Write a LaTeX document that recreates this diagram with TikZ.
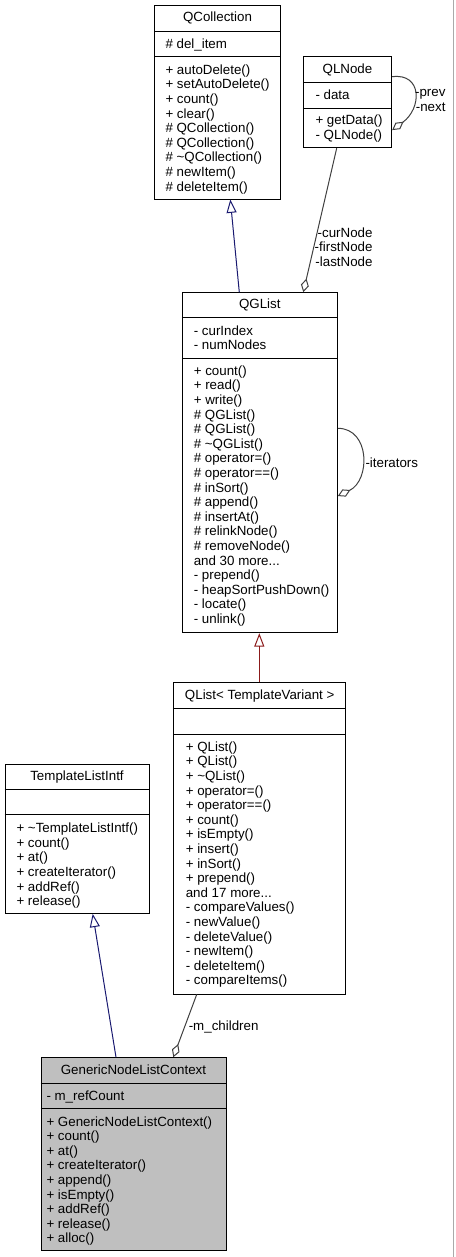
\documentclass[tikz,border=0pt]{standalone}
\usepackage{fontspec}
\setmainfont{Liberation Sans}
\usetikzlibrary{arrows.meta,fit}

\definecolor{inhblue}{RGB}{25,25,112}
\definecolor{inhred}{RGB}{139,26,26}
\definecolor{compgray}{RGB}{64,64,64}
\definecolor{boxgray}{RGB}{191,191,191}
\definecolor{framegray}{RGB}{170,170,170}

\tikzset{every picture/.style={line width=0.75pt}}
\tikzset{every node/.style={font=\fontsize{10pt}{10.95pt}\selectfont},
  classbox/.style={draw=black, fill=white, inner sep=0pt},
  ctitle/.style={anchor=base, inner sep=0pt},
  mlist/.style={anchor=north west, inner sep=0pt, align=left},
  elabel/.style={anchor=north east, inner sep=0pt, align=right},
  inherit/.style={-{Triangle[open, length=10pt, width=7.5pt]}},
  compose/.style={draw=compgray, -{Diamond[open, length=10.5pt, width=6pt]}}}

\begin{document}
\begin{tikzpicture}[x=0.75pt,y=0.75pt,yscale=-1,xscale=1]
    \useasboundingbox (0,0) rectangle (455,1257);

    %Frame line
    \draw [framegray, line width=1pt] (453.3,0) -- (453.3,1257) ;

    %Class QCollection
    \node [classbox, fit={(154.7,5.7) (280,199)}] (qcoll) {};
    \draw (qcoll.west |- 0,31) -- (qcoll.east |- 0,31) ;
    \draw (qcoll.west |- 0,56.7) -- (qcoll.east |- 0,56.7) ;
    % Text Node
    \node [ctitle] (qcoll-t) at (217.5,21.6) {QCollection};
    \node [mlist] (qcoll-a) at (165,37.9) {\# del\_item};
    \node [mlist] (qcoll-m) at (165,64.2) {+ autoDelete()\\+ setAutoDelete()\\+ count()\\+ clear()\\\# QCollection()\\\# QCollection()\\\# \textasciitilde QCollection()\\\# newItem()\\\# deleteItem()};

    %Class QLNode
    \node [classbox, fit={(303.3,56.7) (391.7,147.7)}] (qln) {};
    \draw (qln.west |- 0,82.7) -- (qln.east |- 0,82.7) ;
    \draw (qln.west |- 0,108.3) -- (qln.east |- 0,108.3) ;
    % Text Node
    \node [ctitle] (qln-t) at (347.5,73.6) {QLNode};
    \node [mlist] (qln-a) at (315,89.5) {- data};
    \node [mlist] (qln-m) at (315,114.7) {+ getData()\\- QLNode()};

    %Class QGList
    \node [classbox, fit={(182.3,292.7) (337.3,632.7)}] (qgl) {};
    \draw (qgl.west |- 0,317.7) -- (qgl.east |- 0,317.7) ;
    \draw (qgl.west |- 0,358.3) -- (qgl.east |- 0,358.3) ;
    % Text Node
    \node [ctitle] (qgl-t) at (259.8,308.6) {QGList};
    \node [mlist] (qgl-a) at (193.3,325.2) {- curIndex\\- numNodes};
    \node [mlist] (qgl-m) at (193.3,365.2) {+ count()\\+ read()\\+ write()\\\# QGList()\\\# QGList()\\\# \textasciitilde QGList()\\\# operator=()\\\# operator==()\\\# inSort()\\\# append()\\\# insertAt()\\\# relinkNode()\\\# removeNode()\\and 30 more...\\- prepend()\\- heapSortPushDown()\\- locate()\\- unlink()};

    %Class QList< TemplateVariant >
    \node [classbox, fit={(173.3,682.7) (345.7,994)}] (qlist) {};
    \draw (qlist.west |- 0,708.3) -- (qlist.east |- 0,708.3) ;
    \draw (qlist.west |- 0,734) -- (qlist.east |- 0,734) ;
    % Text Node
    \node [ctitle] (qlist-t) at (259.7,699.6) {QList< TemplateVariant >};
    \node [mlist] (qlist-m) at (185.3,741.2) {+ QList()\\+ QList()\\+ \textasciitilde QList()\\+ operator=()\\+ operator==()\\+ count()\\+ isEmpty()\\+ insert()\\+ inSort()\\+ prepend()\\and 17 more...\\- compareValues()\\- newValue()\\- deleteValue()\\- newItem()\\- deleteItem()\\- compareItems()};

    %Class TemplateListIntf
    \node [classbox, fit={(5,764) (149,913.3)}] (tli) {};
    \draw (tli.west |- 0,789.3) -- (tli.east |- 0,789.3) ;
    \draw (tli.west |- 0,814.3) -- (tli.east |- 0,814.3) ;
    % Text Node
    \node [ctitle] (tli-t) at (77,780.6) {TemplateListIntf};
    \node [mlist] (tli-m) at (16,822.5) {+ \textasciitilde TemplateListIntf()\\+ count()\\+ at()\\+ createIterator()\\+ addRef()\\+ release()};

    %Class GenericNodeListContext
    \node [classbox, fill=boxgray, fit={(41,1057.7) (226,1250)}] (gnlc) {};
    \draw (gnlc.west |- 0,1083.3) -- (gnlc.east |- 0,1083.3) ;
    \draw (gnlc.west |- 0,1108.3) -- (gnlc.east |- 0,1108.3) ;
    % Text Node
    \node [ctitle] (gnlc-t) at (133.5,1074.6) {GenericNodeListContext};
    \node [mlist] (gnlc-a) at (46,1090.2) {- m\_refCount};
    \node [mlist] (gnlc-m) at (46,1115.9) {+ GenericNodeListContext()\\+ count()\\+ at()\\+ createIterator()\\+ append()\\+ isEmpty()\\+ addRef()\\+ release()\\+ alloc()};

    %Inheritance
    \draw [inhblue, inherit] (qgl.north -| 239.3,0) -- (qcoll.south -| 230.3,0) ;
    \draw [inhred, inherit] (qlist.north -| 259.3,0) -- (qgl.south -| 259.3,0) ;
    \draw [inhblue, inherit] (gnlc.north -| 116,0) -- (tli.south -| 92.7,0) ;

    %Composition
    \draw [compose] (qln.south -| 336.7,0) -- (qgl.north -| 303.3,0) ;
    \draw [compose] (qlist.south -| 196.7,0) -- (gnlc.north -| 173.3,0) ;
    \draw [compose] ([yshift=-19.1pt]qln.east) .. controls +(30,-4) and +(30,-22) .. ([yshift=20.9pt]qln.east) ;
    \draw [compose] ([yshift=-25.8pt]qgl.east) .. controls +(32.6,0) and +(32.6,-15.6) .. ([yshift=25pt]qgl.east) ;

    % Text Node
    \node [elabel] (lbl-prev) at (446,89.2) {-prev\\-next};
    \node [elabel] (lbl-cur) at (373,226.9) {-curNode\\-firstNode\\-lastNode};
    \node [mlist] (lbl-iter) at (365,456.9) {-iterators};
    \node [mlist] (lbl-child) at (188.3,1020.2) {-m\_children};

\end{tikzpicture}
\end{document}
